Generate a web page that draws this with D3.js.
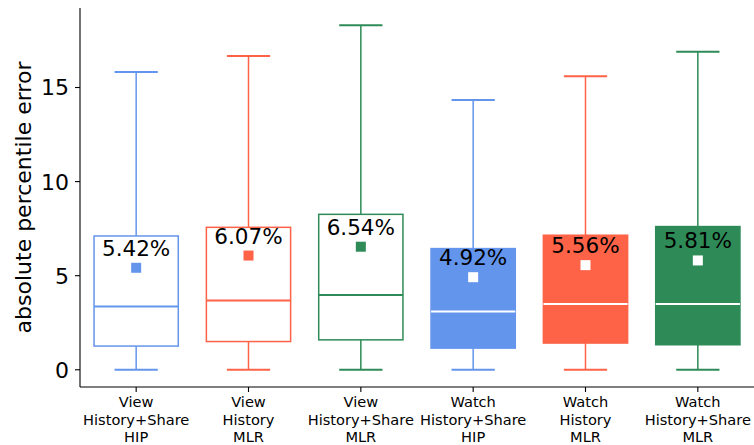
<!DOCTYPE html>
<html>
<head>
<meta charset="utf-8">
<script src="https://cdn.jsdelivr.net/npm/d3@7"></script>
<style>
  html, body { margin: 0; padding: 0; background: #fff; }
  svg { display: block; font-family: "DejaVu Sans", sans-serif; }
</style>
</head>
<body>
<svg id="chart" width="754" height="445"></svg>
<script>
// Box statistics per configuration (absolute percentile error)
const categories = [
  ["View", "History+Share", "HIP"],
  ["View", "History", "MLR"],
  ["View", "History+Share", "MLR"],
  ["Watch", "History+Share", "HIP"],
  ["Watch", "History", "MLR"],
  ["Watch", "History+Share", "MLR"]
];
const whiskerLow  = [0, 0, 0, 0, 0, 0];
const q1Values    = [1.26, 1.50, 1.59, 1.15, 1.42, 1.33];
const medians     = [3.36, 3.68, 3.98, 3.10, 3.49, 3.49];
const q3Values    = [7.11, 7.57, 8.26, 6.44, 7.15, 7.61];
const whiskerHigh = [15.83, 16.68, 18.31, 14.33, 15.60, 16.90];
const means       = [5.42, 6.07, 6.54, 4.92, 5.56, 5.81];
const filled      = [false, false, false, true, true, true];
const colors      = ["#6495ED", "#FF6347", "#2E8B57", "#6495ED", "#FF6347", "#2E8B57"];
const yTicks      = [0, 5, 10, 15];
const yLabel      = "absolute percentile error";

const svg = d3.select("#chart");
const plotLeft = 80, plotRight = 754, plotTop = 8, plotBottom = 387;

const x = d3.scaleLinear().domain([-0.5, categories.length - 0.5]).range([plotLeft, plotRight]);
const yMax = d3.max(whiskerHigh);
const yPad = yMax * 0.05;
const y = d3.scaleLinear().domain([-yPad, yMax + yPad]).range([plotBottom, plotTop]);

const boxW = 0.75, capW = 0.385;

const data = categories.map((c, i) => ({
  i, label: c, lo: whiskerLow[i], q1: q1Values[i], med: medians[i],
  q3: q3Values[i], hi: whiskerHigh[i], mean: means[i], filled: filled[i], color: colors[i]
}));

const g = svg.append("g");
const box = g.selectAll("g.box").data(data).join("g").attr("class", "box");

// whiskers
box.append("line")
  .attr("x1", d => x(d.i)).attr("x2", d => x(d.i))
  .attr("y1", d => y(d.q3)).attr("y2", d => y(d.hi))
  .attr("stroke", d => d.color).attr("stroke-width", 1.5);
box.append("line")
  .attr("x1", d => x(d.i)).attr("x2", d => x(d.i))
  .attr("y1", d => y(d.lo)).attr("y2", d => y(d.q1))
  .attr("stroke", d => d.color).attr("stroke-width", 1.5);
// caps
box.append("line")
  .attr("x1", d => x(d.i - capW / 2)).attr("x2", d => x(d.i + capW / 2))
  .attr("y1", d => y(d.hi)).attr("y2", d => y(d.hi))
  .attr("stroke", d => d.color).attr("stroke-width", 2);
box.append("line")
  .attr("x1", d => x(d.i - capW / 2)).attr("x2", d => x(d.i + capW / 2))
  .attr("y1", d => y(d.lo)).attr("y2", d => y(d.lo))
  .attr("stroke", d => d.color).attr("stroke-width", 2);
// box body
box.append("rect")
  .attr("x", d => x(d.i - boxW / 2))
  .attr("width", d => x(d.i + boxW / 2) - x(d.i - boxW / 2))
  .attr("y", d => y(d.q3))
  .attr("height", d => y(d.q1) - y(d.q3))
  .attr("fill", d => d.filled ? d.color : "none")
  .attr("stroke", d => d.color).attr("stroke-width", 1.5);
// median
box.append("line")
  .attr("x1", d => x(d.i - boxW / 2)).attr("x2", d => x(d.i + boxW / 2))
  .attr("y1", d => y(d.med)).attr("y2", d => y(d.med))
  .attr("stroke", d => d.filled ? "#fff" : d.color).attr("stroke-width", 2);
// mean marker
box.append("rect")
  .attr("x", d => x(d.i) - 5).attr("y", d => y(d.mean) - 5)
  .attr("width", 10).attr("height", 10)
  .attr("fill", d => d.filled ? "#fff" : d.color);
// mean label
box.append("text")
  .attr("x", d => x(d.i)).attr("y", d => y(d.mean) - 12)
  .attr("text-anchor", "middle")
  .attr("font-size", "21.5px").attr("fill", "#000")
  .text(d => d.mean.toFixed(2) + "%");

// axes
const axes = svg.append("g");
axes.append("line").attr("x1", plotLeft).attr("x2", plotLeft).attr("y1", plotTop).attr("y2", plotBottom)
  .attr("stroke", "#000").attr("stroke-width", 1.1);
axes.append("line").attr("x1", plotLeft).attr("x2", plotRight).attr("y1", plotBottom).attr("y2", plotBottom)
  .attr("stroke", "#000").attr("stroke-width", 1.1);

const yt = axes.selectAll("g.yt").data(yTicks).join("g").attr("class", "yt");
yt.append("line").attr("x1", plotLeft - 5).attr("x2", plotLeft)
  .attr("y1", d => y(d)).attr("y2", d => y(d)).attr("stroke", "#000").attr("stroke-width", 1.1);
yt.append("text").attr("x", plotLeft - 11).attr("y", d => y(d)).attr("dy", "0.36em")
  .attr("text-anchor", "end").attr("font-size", "22px").attr("fill", "#000")
  .text(d => d);

const xt = axes.selectAll("g.xt").data(data).join("g").attr("class", "xt");
xt.append("line").attr("x1", d => x(d.i)).attr("x2", d => x(d.i))
  .attr("y1", plotBottom).attr("y2", plotBottom + 5).attr("stroke", "#000").attr("stroke-width", 1.1);
xt.append("text").attr("text-anchor", "middle").attr("font-size", "14.6px").attr("fill", "#000")
  .selectAll("tspan").data(d => d.label.map(s => ({ s, xi: x(d.i) }))).join("tspan")
  .attr("x", t => t.xi).attr("y", (t, k) => 407 + k * 17.5).text(t => t.s);

svg.append("text")
  .attr("transform", `translate(31,${(plotTop + plotBottom) / 2}) rotate(-90)`)
  .attr("text-anchor", "middle").attr("font-size", "22px").attr("fill", "#000")
  .text(yLabel);
</script>
</body>
</html>
